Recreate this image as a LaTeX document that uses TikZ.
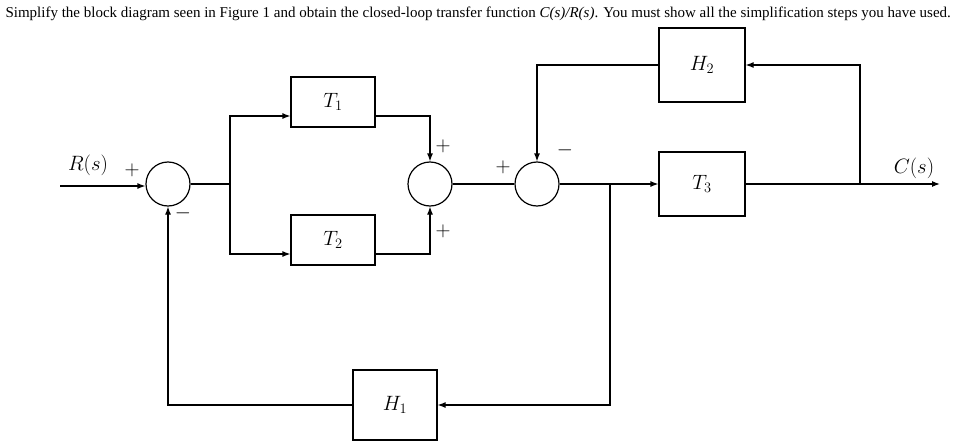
\documentclass[tikz,border=0pt]{standalone}
\usepackage{fontspec}
\setmainfont{Liberation Serif}
\usetikzlibrary{arrows.meta}
\begin{document}
\begin{tikzpicture}[x=1pt,y=-1pt,
 blk/.style={draw,line width=1.2pt,minimum width=84pt,minimum height=50pt,inner sep=0pt,font=\fontsize{20}{20}\selectfont},
 sum/.style={draw,line width=1.2pt,circle,minimum size=44pt,inner sep=0pt},
 ln/.style={line width=1.2pt},
 ar/.style={line width=1.2pt,-{Latex[length=8pt,width=6pt]}},
 lab/.style={font=\fontsize{20}{20}\selectfont}]
\useasboundingbox (0,0) rectangle (962,447);
\node[anchor=west,font=\fontsize{15}{15}\selectfont] (title) at (2,14) {Simplify the block diagram seen in Figure 1 and obtain the closed-loop transfer function \textit{C(s)/R(s)}. You must show all the simplification steps you have used.};
\node[blk] (T1) at (333,102) {$T_1$};
\node[blk] (T2) at (333,240) {$T_2$};
\node[blk,minimum height=74pt,minimum width=86pt] (H2) at (702,65) {$H_2$};
\node[blk,minimum height=64pt,minimum width=86pt] (T3) at (702,184) {$T_3$};
\node[blk,minimum height=70pt] (H1) at (395,405) {$H_1$};
\node[sum] (S1) at (168,184) {};
\node[sum] (S2) at (430,184) {};
\node[sum] (S3) at (537,184) {};
\coordinate (in) at (60,186);
\coordinate (b1) at (230,184);
\coordinate (b2) at (610,184);
\coordinate (b3) at (860,184);
\coordinate (out) at (940,184);
\draw[ar] (in) -- (S1.west |- in);
\draw[ln] (S1) -- (b1);
\draw[ar] (b1) |- (T1.west |- 0,116);
\draw[ar] (b1) |- (T2.west |- 0,254);
\draw[ar] (T1.east |- 0,116) -| (S2.north);
\draw[ar] (T2.east |- 0,254) -| (S2.south);
\draw[ln] (S2) -- (S3);
\draw[ar] (S3) -- (T3);
\draw[ar] (b2) |- (H1);
\draw[ar] (H1) -| (S1.south);
\draw[ln] (T3) -- (b3);
\draw[ar] (b3) -- (out);
\draw[ar] (b3) |- (H2);
\draw[ar] (H2) -| (S3.north);
\node[lab] (R) at (88,165) {$R(s)$};
\node[lab] (C) at (914,168) {$C(s)$};
\node[lab] (p1) at (132,170) {$+$};
\node[lab] (m1) at (183,213) {$-$};
\node[lab] (p2) at (443,146) {$+$};
\node[lab] (p3) at (443,231) {$+$};
\node[lab] (p4) at (503,167) {$+$};
\node[lab] (m3) at (565,150) {$-$};
\end{tikzpicture}
\end{document}
